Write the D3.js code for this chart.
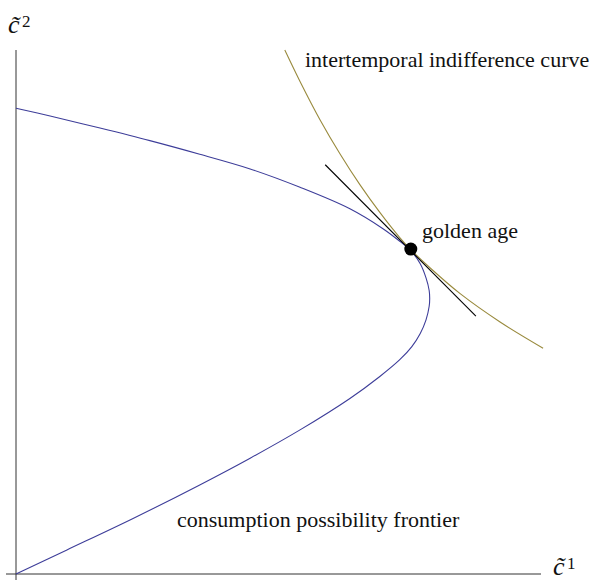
<!DOCTYPE html>
<html>
<head>
<meta charset="utf-8">
<script src="https://cdn.jsdelivr.net/npm/d3@7"></script>
<style>
  body { margin: 0; background: #fff; }
</style>
</head>
<body>
<script>
// consumption possibility frontier (c1, c2)
const FRONTIER_C1 = [0.00, 0.65, 1.60, 2.55, 3.50, 4.46, 5.41, 6.36, 6.99, 7.31, 7.52, 7.70, 7.81, 7.87, 7.88,
                     7.87, 7.81, 7.70, 7.54, 7.31, 6.93, 6.36, 5.41, 4.46, 3.50, 2.23, 0.97, 0.00];
const FRONTIER_C2 = [8.89, 8.74, 8.51, 8.27, 8.01, 7.73, 7.38, 6.97, 6.59, 6.35, 6.17, 5.92, 5.65, 5.41, 5.26,
                     5.11, 4.85, 4.59, 4.34, 4.09, 3.77, 3.35, 2.75, 2.21, 1.70, 1.06, 0.46, 0.00];

// intertemporal indifference curve
const INDIFF_C1 = [5.12, 5.41, 5.79, 6.17, 6.55, 6.93, 7.31, 7.50, 7.89, 8.46, 9.22, 10.04];
const INDIFF_C2 = [10.0, 9.40, 8.67, 8.02, 7.43, 6.90, 6.42, 6.21, 5.84, 5.35, 4.81, 4.31];

// tangent segment and golden age point
const TANGENT_C1 = [5.89, 8.76];
const TANGENT_C2 = [7.81, 4.92];
const GOLDEN = {c1: 7.52, c2: 6.20};

const W = 597, H = 580;
const M = {LEFT: 16, RIGHT: 541, TOP: 50, BOTTOM: 574};
const SERIF = '"Liberation Serif", "Times New Roman", Times, "DejaVu Serif", serif';

const svg = d3.select('body').append('svg')
    .attr('width', W)
    .attr('height', H)
    .attr('font-family', SERIF);

const x = d3.scaleLinear().domain([0, 10]).range([M.LEFT, M.RIGHT]);
const y = d3.scaleLinear().domain([0, 10]).range([M.BOTTOM, M.TOP]);

// axes
svg.append('line')
    .attr('x1', M.LEFT).attr('x2', M.LEFT)
    .attr('y1', M.TOP).attr('y2', 580)
    .attr('stroke', '#333').attr('stroke-width', 1);
svg.append('line')
    .attr('x1', 6).attr('x2', M.RIGHT)
    .attr('y1', M.BOTTOM).attr('y2', M.BOTTOM)
    .attr('stroke', '#333').attr('stroke-width', 1);

const line = d3.line()
    .x(d => x(d[0]))
    .y(d => y(d[1]))
    .curve(d3.curveCatmullRom.alpha(0.5));

svg.append('path')
    .datum(d3.zip(FRONTIER_C1, FRONTIER_C2))
    .attr('d', line)
    .attr('fill', 'none')
    .attr('stroke', '#3d3d99')
    .attr('stroke-width', 1.1);

svg.append('path')
    .datum(d3.zip(INDIFF_C1, INDIFF_C2))
    .attr('d', line)
    .attr('fill', 'none')
    .attr('stroke', '#998a3d')
    .attr('stroke-width', 1.1);

svg.append('path')
    .datum(d3.zip(TANGENT_C1, TANGENT_C2))
    .attr('d', d3.line().x(d => x(d[0])).y(d => y(d[1])))
    .attr('fill', 'none')
    .attr('stroke', '#000')
    .attr('stroke-width', 1.1);

svg.append('circle')
    .attr('cx', x(GOLDEN.c1))
    .attr('cy', y(GOLDEN.c2))
    .attr('r', 6.5)
    .attr('fill', '#000');

// labels
const label = (tx, ty, size, str) => svg.append('text')
    .attr('x', tx).attr('y', ty)
    .attr('font-size', size)
    .attr('fill', '#111')
    .text(str);

label(305, 66.5, 22, 'intertemporal indifference curve');
label(422, 238, 22, 'golden age');
label(177, 527, 22, 'consumption possibility frontier');

// axis names
label(8, 33, 26, 'c\u0303').attr('font-style', 'italic');
label(22, 27, 17, '2');
label(553, 574.5, 26, 'c\u0303').attr('font-style', 'italic');
label(567, 568.5, 17, '1');
</script>
</body>
</html>
